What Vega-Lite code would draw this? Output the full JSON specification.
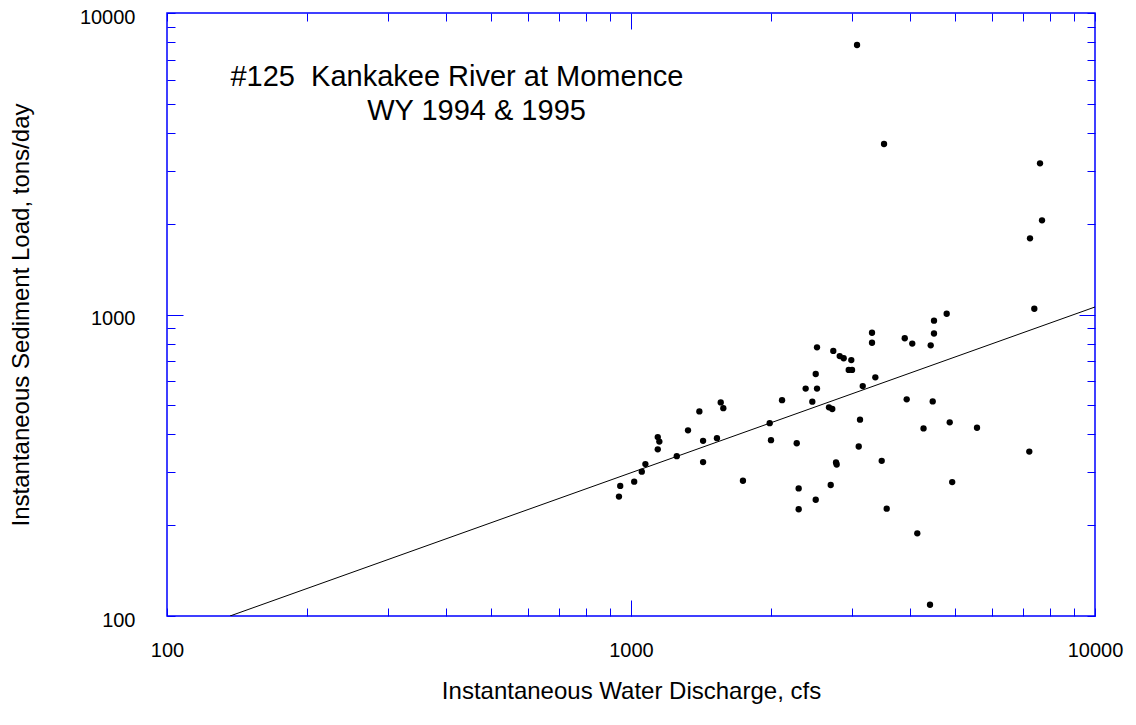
{
  "$schema": "https://vega.github.io/schema/vega-lite/v6.json",
  "width": 928,
  "height": 603,
  "autosize": "none",
  "padding": {"left": 167, "top": 13, "right": 41, "bottom": 109},
  "background": "white",
  "config": {
    "view": {"stroke": "#0000ff", "strokeWidth": 1.5},
    "font": "Liberation Sans",
    "axis": {
      "grid": false,
      "domain": false,
      "labelFont": "Liberation Sans",
      "titleFont": "Liberation Sans",
      "labelColor": "black",
      "titleColor": "black",
      "tickColor": "#0000ff",
      "tickWidth": 1,
      "titleFontWeight": "normal",
      "labelOverlap": false,
      "labelFlush": false,
      "labelBound": false
    }
  },
  "resolve": {"axis": {"x": "independent", "y": "independent"}},
  "layer": [
    {
      "data": {
        "values": [
          {"discharge": 942, "load": 249}, {"discharge": 948, "load": 270}, {"discharge": 1016, "load": 279},
          {"discharge": 1055, "load": 301}, {"discharge": 1074, "load": 319}, {"discharge": 1142, "load": 357},
          {"discharge": 1151, "load": 379}, {"discharge": 1142, "load": 392}, {"discharge": 1255, "load": 339},
          {"discharge": 1327, "load": 413}, {"discharge": 1404, "load": 477}, {"discharge": 1430, "load": 381},
          {"discharge": 1430, "load": 324}, {"discharge": 1532, "load": 389}, {"discharge": 1561, "load": 511},
          {"discharge": 1581, "load": 489}, {"discharge": 1743, "load": 281}, {"discharge": 1990, "load": 436},
          {"discharge": 2003, "load": 383}, {"discharge": 2116, "load": 520}, {"discharge": 2276, "load": 374},
          {"discharge": 2298, "load": 265}, {"discharge": 2298, "load": 226}, {"discharge": 2379, "load": 568},
          {"discharge": 2459, "load": 514}, {"discharge": 2501, "load": 635}, {"discharge": 2517, "load": 568},
          {"discharge": 2517, "load": 778}, {"discharge": 2501, "load": 243}, {"discharge": 2671, "load": 492},
          {"discharge": 2715, "load": 486}, {"discharge": 2694, "load": 272}, {"discharge": 2729, "load": 757},
          {"discharge": 2766, "load": 323}, {"discharge": 2775, "load": 318}, {"discharge": 2817, "load": 728},
          {"discharge": 2873, "load": 716}, {"discharge": 2984, "load": 706}, {"discharge": 2946, "load": 655},
          {"discharge": 2995, "load": 655}, {"discharge": 3116, "load": 448}, {"discharge": 3096, "load": 365},
          {"discharge": 3158, "load": 579}, {"discharge": 3307, "load": 870}, {"discharge": 3307, "load": 806},
          {"discharge": 3362, "load": 619}, {"discharge": 3470, "load": 327}, {"discharge": 3557, "load": 227},
          {"discharge": 3890, "load": 834}, {"discharge": 3928, "load": 523}, {"discharge": 4038, "load": 801},
          {"discharge": 4140, "load": 188}, {"discharge": 4270, "load": 419}, {"discharge": 4425, "load": 790},
          {"discharge": 4410, "load": 109}, {"discharge": 4469, "load": 515}, {"discharge": 4498, "load": 865},
          {"discharge": 4498, "load": 954}, {"discharge": 4790, "load": 1006}, {"discharge": 4863, "load": 439},
          {"discharge": 4923, "load": 278}, {"discharge": 5568, "load": 421}, {"discharge": 7218, "load": 351},
          {"discharge": 7399, "load": 1045}, {"discharge": 7243, "load": 1789}, {"discharge": 7688, "load": 2053},
          {"discharge": 7612, "load": 3172}, {"discharge": 3070, "load": 7830}, {"discharge": 3510, "load": 3677}
        ]
      },
      "mark": {"type": "circle", "size": 40, "color": "black", "opacity": 1},
      "encoding": {
        "x": {
          "field": "discharge",
          "type": "quantitative",
          "scale": {"type": "log", "domain": [100, 10000], "nice": false},
          "axis": {
            "orient": "bottom",
            "values": [100, 200, 300, 400, 500, 600, 700, 800, 900, 1000, 2000, 3000, 4000, 5000, 6000, 7000, 8000, 9000, 10000],
            "format": "d",
            "labelExpr": "datum.value == 100 || datum.value == 1000 || datum.value == 10000 ? datum.label : ''",
            "tickSize": -8,
            "labelPadding": 32,
            "labelFontSize": 20,
            "title": "Instantaneous Water Discharge, cfs",
            "titleFontSize": 24,
            "titlePadding": 19
          }
        },
        "y": {
          "field": "load",
          "type": "quantitative",
          "scale": {"type": "log", "domain": [100, 10000], "nice": false},
          "axis": {
            "orient": "left",
            "values": [100, 200, 300, 400, 500, 600, 700, 800, 900, 1000, 2000, 3000, 4000, 5000, 6000, 7000, 8000, 9000, 10000],
            "format": "d",
            "labelExpr": "datum.value == 100 || datum.value == 1000 || datum.value == 10000 ? datum.label : ''",
            "tickSize": -8,
            "labelPadding": 40,
            "labelOffset": 4,
            "labelFontSize": 20,
            "title": "Instantaneous Sediment Load, tons/day",
            "titleFontSize": 24,
            "titlePadding": 46
          }
        }
      }
    },
    {
      "data": {"values": [{"discharge": 136.7, "load": 100}, {"discharge": 10000, "load": 1059}]},
      "mark": {"type": "line", "color": "black", "strokeWidth": 1, "clip": true},
      "encoding": {
        "x": {
          "field": "discharge",
          "type": "quantitative",
          "axis": {
            "orient": "top",
            "values": [100, 200, 300, 400, 500, 600, 700, 800, 900, 2000, 3000, 4000, 5000, 6000, 7000, 8000, 9000, 10000],
            "labels": false,
            "tickSize": -8,
            "title": null
          }
        },
        "y": {
          "field": "load",
          "type": "quantitative",
          "axis": {
            "orient": "right",
            "values": [100, 200, 300, 400, 500, 600, 700, 800, 900, 2000, 3000, 4000, 5000, 6000, 7000, 8000, 9000, 10000],
            "labels": false,
            "tickSize": -8,
            "title": null
          }
        }
      }
    },
    {
      "data": {"values": [{"label": "#125\u00a0 Kankakee River at Momence"}]},
      "mark": {"type": "text", "align": "left", "baseline": "alphabetic", "fontSize": 29, "font": "Liberation Sans", "color": "black"},
      "encoding": {
        "x": {"datum": 137, "type": "quantitative", "axis": {"orient": "bottom", "values": [1000], "labels": false, "tickSize": -16, "title": null}},
        "y": {"datum": 5728, "type": "quantitative", "axis": {"orient": "left", "values": [1000], "labels": false, "tickSize": -16, "title": null}},
        "text": {"field": "label"}
      }
    },
    {
      "data": {"values": [{"label": "WY 1994 & 1995"}]},
      "mark": {"type": "text", "align": "left", "baseline": "alphabetic", "fontSize": 29, "font": "Liberation Sans", "color": "black"},
      "encoding": {
        "x": {"datum": 270, "type": "quantitative", "axis": {"orient": "top", "values": [1000], "labels": false, "tickSize": -16, "title": null}},
        "y": {"datum": 4418, "type": "quantitative", "axis": {"orient": "right", "values": [1000], "labels": false, "tickSize": -16, "title": null}},
        "text": {"field": "label"}
      }
    }
  ]
}
